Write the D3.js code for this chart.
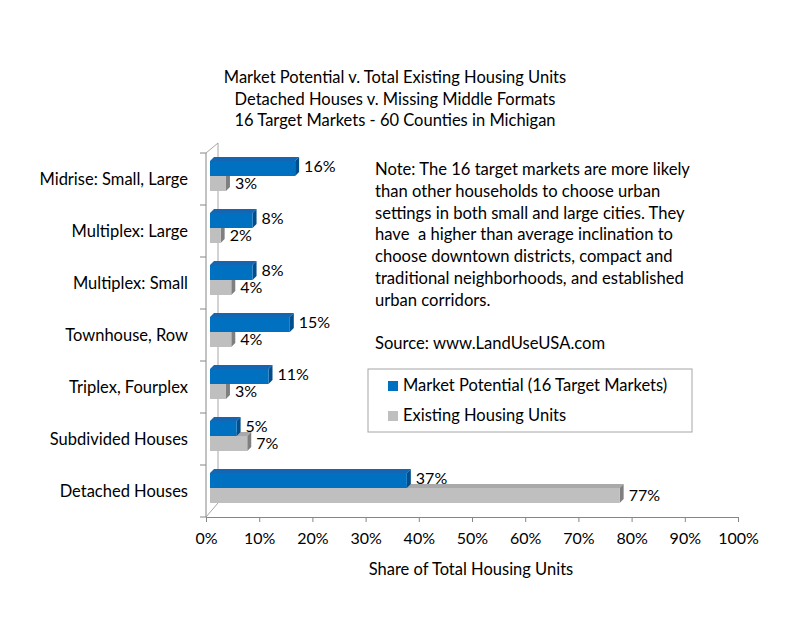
<!DOCTYPE html>
<html><head><meta charset="utf-8">
<script src="https://cdn.jsdelivr.net/npm/d3@7"></script>
<style>body{margin:0;background:#fff}svg{display:block}text{font-family:Lato,"Open Sans",sans-serif;fill:#000;white-space:pre}</style>
</head><body>
<svg id="c" width="800" height="618"></svg>
<script>
const categories = ["Midrise: Small, Large","Multiplex: Large","Multiplex: Small","Townhouse, Row","Triplex, Fourplex","Subdivided Houses","Detached Houses"];
const marketPotential = [16, 8, 8, 15, 11, 5, 37];
const existingUnits = [3, 2, 4, 4, 3, 7, 77];
const xTicks = [0,10,20,30,40,50,60,70,80,90,100];
const seriesNames = ["Market Potential (16 Target Markets)","Existing Housing Units"];
const titleLines = ["Market Potential v. Total Existing Housing Units","Detached Houses v. Missing Middle Formats","16 Target Markets - 60 Counties in Michigan"];
const noteLines = ["Note: The 16 target markets are more likely","than other households to choose urban","settings in both small and large cities. They","have  a higher than average inclination to","choose downtown districts, compact and","traditional neighborhoods, and established","urban corridors.","","Source: www.LandUseUSA.com"];

const svg = d3.select("#c");
const x = d3.scaleLinear().domain([0,100]).range([206,738]);
const xb = d3.scaleLinear().domain([0,100]).range([210,742]);
const y = d3.scaleBand().domain(categories).range([153,517]);
const depth = 12, bd = 4;

// title
svg.append("g").selectAll("text").data(titleLines).join("text")
  .attr("x",395).attr("y",(d,i)=>83+i*21.5).attr("text-anchor","middle")
  .style("font-size","16.5px").text(d=>d);

// walls
const wall = svg.append("g").attr("stroke","#a6a6a6").attr("fill","none");
wall.append("line").attr("x1",x(0)+depth).attr("x2",x(0)+depth).attr("y1",153-depth+2).attr("y2",517-depth-2);
wall.append("line").attr("x1",x(0)).attr("y1",153).attr("x2",x(0)+depth).attr("y2",153-depth+2);
wall.append("line").attr("x1",x(0)).attr("y1",517).attr("x2",x(0)+depth).attr("y2",517-depth-2);

// bars
function bar3d(g, v, yTop, h, cFront, cTop, cSide){
  const x0 = xb(0), x1 = xb(v);
  g.append("path").attr("d",`M${x0},${yTop}L${x0+bd},${yTop-bd}L${x1+bd},${yTop-bd}L${x1},${yTop}Z`).attr("fill",cTop);
  g.append("path").attr("d",`M${x1},${yTop}L${x1+bd},${yTop-bd}L${x1+bd},${yTop+h-bd}L${x1},${yTop+h}Z`).attr("fill",cSide);
  g.append("rect").attr("x",x0).attr("y",yTop).attr("width",x1-x0).attr("height",h).attr("fill",cFront);
}
const bars = svg.append("g");
categories.forEach((c,i)=>{
  const b = y(c);
  const g = bars.append("g");
  bar3d(g, existingUnits[i], b+23, 15, "#bfbfbf", "#a9a9a9", "#7f7f7f");
  bar3d(g, marketPotential[i], b+8, 15, "#0070c0", "#1466b3", "#004f8c");
  g.append("text").attr("x",xb(marketPotential[i])+bd+5).attr("y",b+19).style("font-size","16px").text(marketPotential[i]+"%");
  g.append("text").attr("x",xb(existingUnits[i])+bd+5).attr("y",b+36).style("font-size","16px").text(existingUnits[i]+"%");
});

// y axis
const ya = svg.append("g").attr("stroke","#868686");
ya.append("line").attr("x1",x(0)).attr("x2",x(0)).attr("y1",153).attr("y2",517);
const yTickPos = categories.map(c=>y(c)).concat([517]);
ya.selectAll("line.t").data(yTickPos).join("line").attr("class","t")
  .attr("x1",x(0)-6).attr("x2",x(0)).attr("y1",d=>d).attr("y2",d=>d);
svg.append("g").selectAll("text").data(categories).join("text")
  .attr("x",188).attr("y",d=>y(d)+y.bandwidth()/2+6).attr("text-anchor","end")
  .style("font-size","16.5px").text(d=>d);

// x axis
const xa = svg.append("g").attr("transform","translate(0,517)")
  .call(d3.axisBottom(x).tickValues(xTicks).tickFormat(d=>d+"%").tickSize(5).tickPadding(11));
xa.select(".domain").attr("stroke","#868686");
xa.selectAll(".tick line").attr("stroke","#868686");
xa.selectAll(".tick text").style("font-size","16px").style("font-family","Lato,'Open Sans',sans-serif");
svg.append("text").attr("x",471).attr("y",575).attr("text-anchor","middle").style("font-size","16.5px").text("Share of Total Housing Units");

// note
svg.append("g").selectAll("text").data(noteLines).join("text")
  .attr("x",375).attr("y",(d,i)=>175+i*21.8).style("font-size","16.6px").text(d=>d);

// legend
const lg = svg.append("g");
lg.append("rect").attr("x",368).attr("y",369).attr("width",324).attr("height",63).attr("fill","#fff").attr("stroke","#a6a6a6");
const lc = ["#0070c0","#bfbfbf"];
seriesNames.forEach((s,i)=>{
  lg.append("rect").attr("x",388).attr("y",381+i*30).attr("width",10).attr("height",10).attr("fill",lc[i]);
  lg.append("text").attr("x",403).attr("y",391+i*30).style("font-size","16.5px").text(s);
});
</script>
</body></html>
